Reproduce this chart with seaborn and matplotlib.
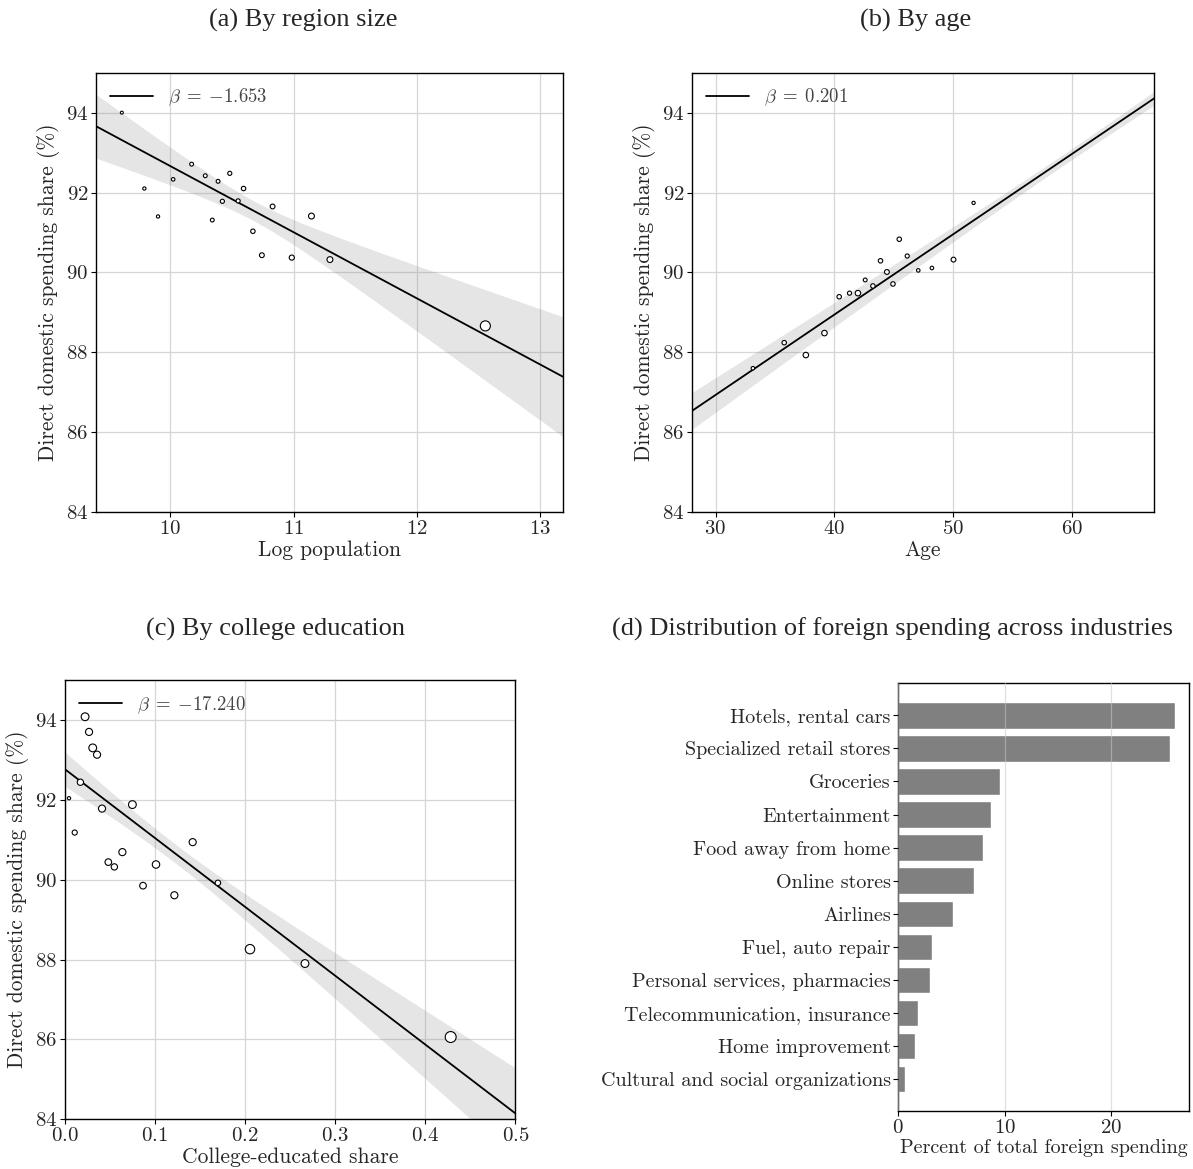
import numpy as np
import pandas as pd
import matplotlib
matplotlib.use("Agg")
import matplotlib.pyplot as plt
import seaborn as sns

sns.set_style("white")
plt.rcParams["font.family"] = ["cmr10"]
plt.rcParams["mathtext.fontset"] = "cm"
plt.rcParams["axes.unicode_minus"] = False
plt.rcParams["axes.formatter.use_mathtext"] = True

# ---------------- data ----------------
# (a) by region size
logpop = [9.605, 9.788, 9.899, 10.022, 10.172, 10.283, 10.340, 10.387, 10.422, 10.482,
          10.550, 10.594, 10.670, 10.743, 10.830, 10.986, 11.146, 11.296, 12.559]
share_a = [94.00, 92.10, 91.40, 92.33, 92.71, 92.42, 91.31, 92.28, 91.78, 92.48,
           91.79, 92.10, 91.03, 90.43, 91.65, 90.37, 91.41, 90.32, 88.66]
weight_a = [1.3, 2.0, 2.0, 2.7, 3.5, 3.5, 3.5, 3.5, 4.3, 4.3,
            4.3, 5.3, 5.3, 6.5, 6.5, 7.7, 10.5, 10.5, 34.4]

# (b) by age
age = [33.15, 35.79, 37.61, 39.18, 40.42, 41.29, 42.00, 42.61, 43.26, 43.90,
       44.44, 44.95, 45.48, 46.15, 47.08, 48.23, 50.05, 51.74]
share_b = [87.60, 88.24, 87.93, 88.48, 89.39, 89.48, 89.48, 89.81, 89.66, 90.29,
           90.01, 89.71, 90.83, 90.41, 90.05, 90.11, 90.32, 91.74]
weight_b = [2.7, 5.3, 9.1, 9.1, 5.3, 4.3, 9.1, 3.5, 5.3, 5.3,
            6.5, 5.3, 5.3, 4.3, 2.7, 2.7, 6.5, 2.0]

# (c) by college education
college = [0.0226, 0.0270, 0.0311, 0.0359, 0.0174, 0.0048, 0.0414, 0.0751, 0.0111, 0.0640,
           0.0484, 0.0551, 0.1013, 0.1420, 0.1700, 0.0869, 0.1217, 0.2056, 0.2666, 0.4283]
share_c = [94.08, 93.70, 93.30, 93.13, 92.44, 92.04, 91.78, 91.88, 91.18, 90.69,
           90.44, 90.32, 90.38, 90.94, 89.92, 89.85, 89.61, 88.26, 87.90, 86.06]
weight_c = [19.9, 16.2, 19.9, 16.2, 12.4, 2.0, 16.2, 19.9, 7.7, 16.2,
            14.0, 12.4, 18.0, 16.2, 9.1, 14.0, 16.2, 29.8, 19.9, 41.0]

# fitted regressions (slope shown in legend, intercept)
beta = [-1.653, 0.201, -17.240]
intercept = [109.19, 80.90, 92.77]
# 95% band: half-width = sqrt(band_min^2 + band_growth^2 * (x - band_center)^2)
band_center = [10.68, 59.4, 0.122]
band_min = [0.25, 0.139, 0.236]
band_growth = [0.59, 0.014, 2.95]

# (d) industries
industries = ["Hotels, rental cars", "Specialized retail stores", "Groceries",
              "Entertainment", "Food away from home", "Online stores", "Airlines",
              "Fuel, auto repair", "Personal services, pharmacies",
              "Telecommunication, insurance", "Home improvement",
              "Cultural and social organizations"]
foreign_pct = [26.02, 25.55, 9.56, 8.71, 7.96, 7.12, 5.14, 3.17, 2.98, 1.85, 1.57, 0.63]

# ---------------- figure ----------------
W, H = 1193, 1169
fig = plt.figure(figsize=(W / 100, H / 100), dpi=100)


def add_ax(left, right, top, bottom):
    return fig.add_axes([left / W, 1 - bottom / H, (right - left) / W, (bottom - top) / H])


ax_a = add_ax(96, 563, 72.7, 512)
ax_b = add_ax(692, 1154, 72.7, 512)
ax_c = add_ax(64.7, 515.3, 680, 1119.3)
ax_d = add_ax(898.3, 1189.3, 682.7, 1111)

TICK_FS = 15
LABEL_FS = 15.5
GRID_C = "#d6d6d6"


def style_axes(ax):
    for s in ax.spines.values():
        s.set_visible(True)
        s.set_color("black")
        s.set_linewidth(1.0)
    ax.grid(True, color=GRID_C, linewidth=0.9)
    ax.tick_params(axis="both", which="major", labelsize=TICK_FS, direction="out",
                   length=3.5, width=0.8, color="black", left=True, bottom=True,
                   top=False, right=False, pad=2)


def beta_label(b):
    txt = "%.3f" % abs(b)
    sign = "{-}" if b < 0 else ""
    return r"$\beta\;=\;%s%s$" % (sign, txt)


panels = [
    (ax_a, logpop, share_a, weight_a, (9.395, 13.19), "Log population", 0),
    (ax_b, age, share_b, weight_b, (28.02, 66.94), "Age", 1),
    (ax_c, college, share_c, weight_c, (0.0, 0.5), "College-educated share", 2),
]

all_w = weight_a + weight_b + weight_c
wmin, wmax = min(all_w), max(all_w)

for ax, xs, ys, ws, xlim, xlabel, i in panels:
    style_axes(ax)
    df = pd.DataFrame({"x": xs, "y": ys, "w": ws})
    xx = np.linspace(xlim[0], xlim[1], 300)
    yy = intercept[i] + beta[i] * xx
    half = np.sqrt(band_min[i] ** 2 + band_growth[i] ** 2 * (xx - band_center[i]) ** 2)
    ax.fill_between(xx, yy - half, yy + half, color="gray", alpha=0.2, linewidth=0, zorder=2)
    ax.plot(xx, yy, color="black", linewidth=1.3, zorder=3, label=beta_label(beta[i]))
    sns.scatterplot(data=df, x="x", y="y", size="w", sizes=(4.5, 62.0),
                    size_norm=(wmin, wmax), facecolor="white", edgecolor="black",
                    linewidth=0.8, legend=False, ax=ax, zorder=4)
    ax.set_xlim(*xlim)
    ax.set_ylim(84, 95)
    ax.set_yticks([84, 86, 88, 90, 92, 94])
    ax.set_xlabel(xlabel, fontsize=LABEL_FS, labelpad=2)
    ax.set_ylabel("Direct domestic spending share (%)", fontsize=LABEL_FS, labelpad=4)
    ax.legend(loc="upper left", frameon=False, fontsize=13.5, handlelength=2.3,
              labelcolor="#444444", borderaxespad=0.35, handletextpad=0.8)

ax_a.set_xticks([10, 11, 12, 13])
ax_b.set_xticks([30, 40, 50, 60])
ax_c.set_xticks([0.0, 0.1, 0.2, 0.3, 0.4, 0.5])

# (d) bars
style_axes(ax_d)
dfd = pd.DataFrame({"industry": industries, "pct": foreign_pct})
sns.barplot(data=dfd, x="pct", y="industry", orient="h", color="#808080",
            saturation=1, width=0.8, ax=ax_d, zorder=1)
ax_d.set_axisbelow(False)
for gl in ax_d.get_xgridlines() + ax_d.get_ygridlines():
    gl.set_alpha(0.55)
    gl.set_color("#c8c8c8")
ax_d.set_xlim(0, 27.37)
ax_d.set_ylim(11.96, -0.985)
ax_d.set_xticks([0, 10, 20])
ax_d.set_ylabel("")
ax_d.set_xlabel("Percent of total foreign spending", fontsize=14.5, labelpad=2)
ax_d.tick_params(axis="y", labelsize=14.5)

# subfigure captions
TITLE_FONT = ["Liberation Serif", "DejaVu Serif"]
TITLE_FS = 19
fig.text(303 / W, 1 - 20 / H, "(a) By region size", ha="center", va="center",
         fontsize=TITLE_FS, family=TITLE_FONT)
fig.text(916 / W, 1 - 20 / H, "(b) By age", ha="center", va="center",
         fontsize=TITLE_FS, family=TITLE_FONT)
fig.text(275 / W, 1 - 629 / H, "(c) By college education", ha="center", va="center",
         fontsize=TITLE_FS, family=TITLE_FONT)
fig.text(893 / W, 1 - 629 / H, "(d) Distribution of foreign spending across industries",
         ha="center", va="center", fontsize=TITLE_FS, family=TITLE_FONT)

fig.savefig("out.png", dpi=100)
